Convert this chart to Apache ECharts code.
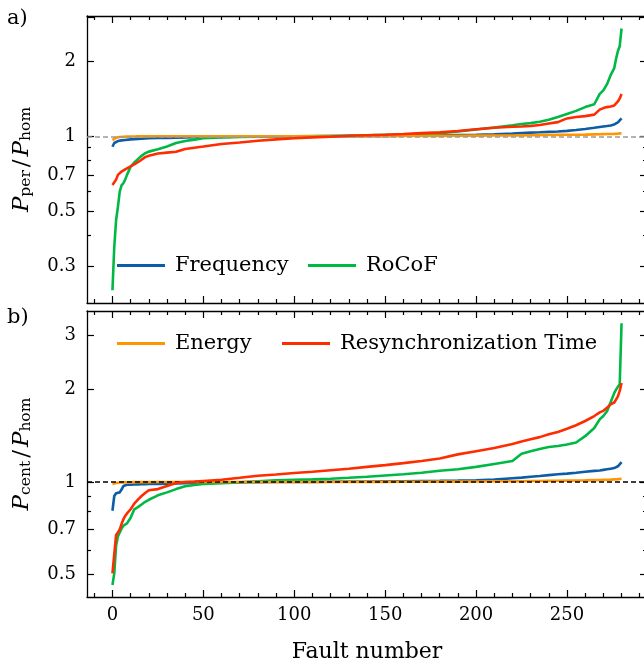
<!DOCTYPE html>
<html><head><meta charset="utf-8">
<script src="https://cdn.jsdelivr.net/npm/echarts@6/dist/echarts.min.js"></script>
<style>html,body{margin:0;padding:0;background:#fff;} #c{width:644px;height:671px;}</style>
</head><body><div id="c"></div>
<script>
// ---------------- data ----------------
const faultNumber = [0,1,2,3,4,5,6,7,8,10,12,14,16,18,20,25,30,35,40,45,50,60,70,80,90,100,110,120,130,140,150,160,170,180,190,200,210,220,225,230,235,240,245,250,255,260,265,268,270,272,274,276,277,278,279,280];

// panel a) P_per / P_hom
const perFrequency = [0.908,0.94,0.952,0.957,0.96,0.963,0.965,0.967,0.969,0.972,0.974,0.976,0.978,0.98,0.982,0.984,0.986,0.988,0.99,0.992,0.993,0.995,0.997,0.998,0.999,1.0,1.0,1.001,1.002,1.003,1.004,1.006,1.008,1.01,1.012,1.014,1.018,1.025,1.03,1.035,1.038,1.042,1.046,1.052,1.06,1.07,1.082,1.09,1.095,1.1,1.106,1.116,1.125,1.138,1.155,1.18];
const perRocof = [0.241,0.36,0.46,0.52,0.60,0.635,0.648,0.67,0.70,0.755,0.785,0.81,0.835,0.855,0.868,0.888,0.91,0.94,0.958,0.97,0.982,0.99,0.994,0.997,0.999,1.0,1.002,1.004,1.006,1.009,1.013,1.017,1.022,1.028,1.045,1.065,1.085,1.108,1.12,1.13,1.145,1.165,1.195,1.23,1.265,1.31,1.345,1.48,1.53,1.62,1.76,1.88,2.05,2.2,2.3,2.71];
const perEnergy = [0.966,0.98,0.988,0.992,0.994,0.995,0.996,0.997,0.997,0.998,0.998,0.999,0.999,0.999,0.999,1.0,1.0,1.0,1.0,1.0,1.0,1.0,1.0,1.0,1.0,1.0,1.0,1.001,1.001,1.002,1.002,1.003,1.003,1.004,1.005,1.006,1.007,1.008,1.009,1.01,1.011,1.012,1.013,1.014,1.015,1.016,1.018,1.019,1.02,1.021,1.022,1.023,1.024,1.025,1.026,1.028];
const perResync = [0.637,0.647,0.67,0.70,0.712,0.722,0.73,0.737,0.744,0.758,0.772,0.787,0.805,0.825,0.835,0.853,0.86,0.867,0.89,0.9,0.91,0.932,0.945,0.96,0.972,0.982,0.99,0.997,1.005,1.01,1.015,1.022,1.03,1.037,1.05,1.068,1.082,1.092,1.095,1.1,1.11,1.125,1.14,1.18,1.195,1.205,1.222,1.28,1.298,1.31,1.318,1.33,1.35,1.38,1.42,1.48];

// panel b) P_cent / P_hom
const centFrequency = [0.806,0.9,0.919,0.921,0.925,0.945,0.97,0.978,0.979,0.98,0.981,0.982,0.983,0.984,0.985,0.986,0.988,0.99,0.991,0.993,0.994,0.996,0.998,0.999,1.0,1.0,1.001,1.002,1.003,1.004,1.005,1.006,1.007,1.008,1.01,1.013,1.018,1.028,1.033,1.04,1.046,1.053,1.06,1.065,1.072,1.08,1.087,1.09,1.095,1.1,1.105,1.11,1.113,1.125,1.14,1.16];
const centRocof = [0.462,0.504,0.62,0.665,0.685,0.705,0.72,0.728,0.733,0.765,0.815,0.828,0.845,0.862,0.875,0.905,0.925,0.948,0.968,0.978,0.985,0.99,0.997,1.006,1.012,1.016,1.02,1.025,1.032,1.04,1.05,1.06,1.072,1.088,1.1,1.12,1.145,1.17,1.235,1.26,1.28,1.3,1.31,1.325,1.345,1.41,1.5,1.6,1.64,1.7,1.82,1.95,2.0,2.03,2.08,3.29];
const centEnergy = [0.985,0.99,0.993,0.995,0.996,0.997,0.997,0.998,0.998,0.998,0.999,0.999,0.999,0.999,0.999,1.0,1.0,1.0,1.0,1.0,1.0,1.0,1.0,1.0,1.0,1.0,1.0,1.0,1.001,1.001,1.001,1.002,1.002,1.003,1.003,1.004,1.005,1.006,1.006,1.007,1.007,1.008,1.009,1.01,1.011,1.012,1.014,1.015,1.016,1.017,1.018,1.02,1.021,1.022,1.023,1.025];
const centResync = [0.504,0.506,0.672,0.685,0.70,0.73,0.755,0.775,0.79,0.815,0.85,0.876,0.9,0.92,0.94,0.948,0.97,0.993,1.0,1.003,1.008,1.017,1.032,1.048,1.058,1.07,1.08,1.092,1.104,1.12,1.135,1.152,1.17,1.192,1.23,1.26,1.29,1.33,1.355,1.378,1.4,1.43,1.455,1.49,1.53,1.58,1.64,1.685,1.705,1.745,1.79,1.815,1.835,1.9,1.98,2.1];

const seriesNames = ['Frequency','RoCoF','Energy','Resynchronization Time'];
const referenceLevel = 1;

// ticks
const xMajorTicks = [0,50,100,150,200,250];
const xMinorTicks = [-10,10,20,30,40,60,70,80,90,110,120,130,140,160,170,180,190,210,220,230,240,260,270,280,290];
const yTopMajorTicks = [0.3,0.5,0.7,1,2,3];
const yTopLabels = [0.3,0.5,0.7,1,2];
const yTopMinorTicks = [0.4,0.6,0.8,0.9];
const yBotMajorTicks = [0.5,0.7,1,2,3];
const yBotLabels = [0.5,0.7,1,2,3];
const yBotMinorTicks = [0.6,0.8,0.9];

// ---------------- styling ----------------
const FONT = 'DejaVu Serif';
const COLORS = ['#0C5DA5','#00B945','#FF9500','#FF2C00'];
const X_MIN = -14, X_MAX = 294;
const Y_TOP = [0.2141, 3.042];
const Y_BOT = [0.422, 3.606];

const gridTop = {left:87, right:-3, top:16, height:287};
const gridBot = {left:87, right:-3, top:311, height:286};

function xAx(grid, pos, ticks, len, labels, showLine, extra) {
  return Object.assign({
    type:'value', gridIndex:grid, position:pos, min:X_MIN, max:X_MAX,
    axisLine:{show:showLine, onZero:false, lineStyle:{color:'#000', width:1.3}},
    axisTick:{show:true, inside:true, length:len, customValues:ticks, lineStyle:{color:'#000', width:1.2}},
    axisLabel: labels ? {show:true, customValues:labels, margin:9, color:'#000', fontSize:18, fontFamily:FONT, formatter:(v)=>String(v)} : {show:false},
    splitLine:{show:false}
  }, extra || {});
}
function yAx(grid, pos, range, ticks, len, labels, showLine, extra) {
  return Object.assign({
    type:'log', logBase:10, gridIndex:grid, position:pos, min:range[0], max:range[1],
    axisLine:{show:showLine, onZero:false, lineStyle:{color:'#000', width:1.3}},
    axisTick:{show:true, inside:true, length:len, customValues:ticks, lineStyle:{color:'#000', width:1.2}},
    axisLabel: labels ? {show:true, customValues:labels, margin:11, color:'#000', fontSize:18, fontFamily:FONT, formatter:(v)=>String(+Number(v).toPrecision(3))} : {show:false},
    splitLine:{show:false}, minorTick:{show:false}
  }, extra || {});
}

const richName = {
  i:{fontFamily:FONT, fontStyle:'italic', fontSize:23, verticalAlign:'bottom', lineHeight:32, color:'#000'},
  s:{fontFamily:FONT, fontSize:15.5, verticalAlign:'bottom', lineHeight:16, color:'#000'},
  n:{fontFamily:FONT, fontSize:23, verticalAlign:'bottom', lineHeight:32, color:'#000', padding:[0,3,0,3]}
};
function yName(sub) {
  return {
    name:'{i|P}{s|' + sub + '}{n|/}{i|P}{s|hom}', nameLocation:'middle', nameGap:53, nameRotate:90,
    nameTextStyle:{rich:richName, fontFamily:FONT, fontSize:23}
  };
}

function zip(vals){ return faultNumber.map((x,i)=>[x, vals[i]]); }

function lineSeries(name, color, vals, xi, yi, z) {
  return {type:'line', name:name, xAxisIndex:xi, yAxisIndex:yi, data:zip(vals), showSymbol:false, symbol:'none',
    lineStyle:{color:color, width:2.6}, itemStyle:{color:color}, z:z, animation:false, silent:true};
}
function refLine(xi, yi, color) {
  return {type:'line', name:'ref', xAxisIndex:xi, yAxisIndex:yi, data:[], z:1, silent:true, animation:false,
    markLine:{symbol:'none', silent:true, animation:false, label:{show:false},
      lineStyle:{color:color, width:1.5, type:[5,3]}, data:[{yAxis:referenceLevel}]}};
}

function legend(name, left, top) {
  return {data:[name], left:left, top:top, padding:0, itemWidth:48, itemHeight:3, icon:'rect', selectedMode:false,
    textStyle:{fontSize:21, fontFamily:FONT, color:'#000', padding:[0,0,0,5]}};
}

const option = {
  animation:false,
  backgroundColor:'#fff',
  textStyle:{fontFamily:FONT},
  grid:[
    Object.assign({outerBoundsMode:'none', containLabel:false}, gridTop),
    Object.assign({outerBoundsMode:'none', containLabel:false}, gridTop),
    Object.assign({outerBoundsMode:'none', containLabel:false}, gridBot),
    Object.assign({outerBoundsMode:'none', containLabel:false}, gridBot)
  ],
  xAxis:[
    xAx(0,'bottom',xMajorTicks,7,null,true),   // 0
    xAx(0,'top',xMajorTicks,7,null,true),      // 1
    xAx(1,'bottom',xMinorTicks,4,null,false),  // 2
    xAx(1,'top',xMinorTicks,4,null,false),     // 3
    xAx(2,'bottom',xMajorTicks,7,xMajorTicks,true,{name:'Fault number', nameLocation:'middle', nameGap:44, nameTextStyle:{fontFamily:FONT, fontSize:22, color:'#000'}}), // 4
    xAx(2,'top',xMajorTicks,7,null,true),      // 5
    xAx(3,'bottom',xMinorTicks,4,null,false),  // 6
    xAx(3,'top',xMinorTicks,4,null,false)      // 7
  ],
  yAxis:[
    yAx(0,'left',Y_TOP,yTopMajorTicks,7,yTopLabels,true,yName('per')), // 0
    yAx(0,'right',Y_TOP,yTopMajorTicks,7,null,true),                    // 1
    yAx(1,'left',Y_TOP,yTopMinorTicks,4,null,false),                    // 2
    yAx(1,'right',Y_TOP,yTopMinorTicks,4,null,false),                   // 3
    yAx(2,'left',Y_BOT,yBotMajorTicks,7,yBotLabels,true,yName('cent')), // 4
    yAx(2,'right',Y_BOT,yBotMajorTicks,7,null,true),                    // 5
    yAx(3,'left',Y_BOT,yBotMinorTicks,4,null,false),                    // 6
    yAx(3,'right',Y_BOT,yBotMinorTicks,4,null,false)                    // 7
  ],
  legend:[
    legend(seriesNames[0],117,255),
    legend(seriesNames[1],308,255),
    legend(seriesNames[2],117,333),
    legend(seriesNames[3],282,333)
  ],
  graphic:[
    {type:'text', left:7, top:8, style:{text:'a)', fontSize:21, fontFamily:FONT, fill:'#000'}},
    {type:'text', left:7, top:307, style:{text:'b)', fontSize:21, fontFamily:FONT, fill:'#000'}}
  ],
  series:[
    refLine(0,0,'#9a9a9a'),
    lineSeries(seriesNames[0],COLORS[0],perFrequency,0,0,2),
    lineSeries(seriesNames[1],COLORS[1],perRocof,0,0,3),
    lineSeries(seriesNames[2],COLORS[2],perEnergy,0,0,4),
    lineSeries(seriesNames[3],COLORS[3],perResync,0,0,5),
    refLine(4,4,'#000'),
    lineSeries(seriesNames[0],COLORS[0],centFrequency,4,4,2),
    lineSeries(seriesNames[1],COLORS[1],centRocof,4,4,3),
    lineSeries(seriesNames[2],COLORS[2],centEnergy,4,4,4),
    lineSeries(seriesNames[3],COLORS[3],centResync,4,4,5)
  ]
};

const chart = echarts.init(document.getElementById('c'), null, {renderer:'canvas'});
chart.setOption(option);
</script></body></html>
